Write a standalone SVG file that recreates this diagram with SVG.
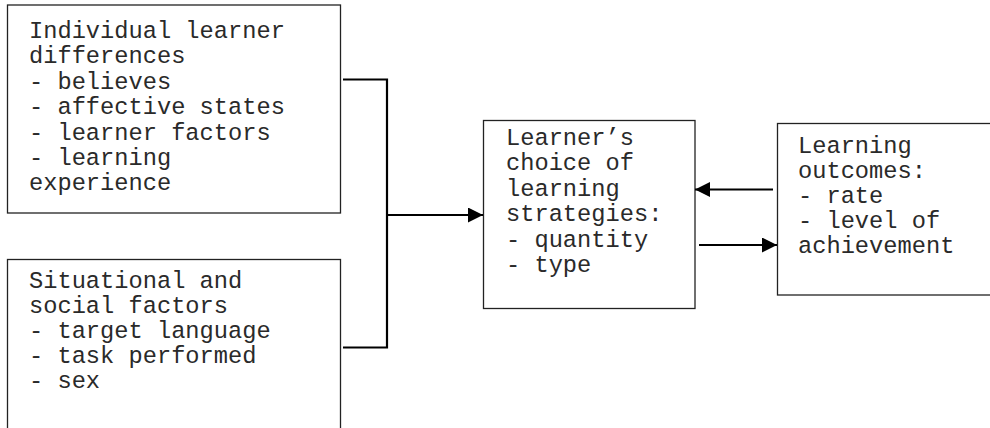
<svg xmlns="http://www.w3.org/2000/svg" width="990" height="428" viewBox="0 0 990 428">
<style>
.box{fill:#fff;stroke:#222;stroke-width:1.3}
.t{font-family:"Liberation Mono","Courier New",monospace;font-size:23.7px;fill:#2a2a2a}
.c{stroke:#000;stroke-width:2.2;fill:none}
</style>
<defs>
<marker id="ah" markerWidth="15" markerHeight="15" viewBox="0 0 15 15" refX="15" refY="7.5" orient="auto" markerUnits="userSpaceOnUse">
<path d="M0,0 L15,7.5 L0,15 Z" fill="#000"/>
</marker>
</defs>
<rect width="990" height="428" fill="#fff"/>
<g id="n1">
<rect class="box" x="7.5" y="5" width="333" height="208"/>
<text class="t" x="29" y="38"><tspan x="29">Individual learner</tspan><tspan x="29" dy="25.4">differences</tspan><tspan x="29" dy="25.4">- believes</tspan><tspan x="29" dy="25.4">- affective states</tspan><tspan x="29" dy="25.4">- learner factors</tspan><tspan x="29" dy="25.4">- learning</tspan><tspan x="29" dy="25.4">experience</tspan></text>
</g>
<g id="n2">
<rect class="box" x="7.5" y="259.5" width="333" height="190"/>
<text class="t" x="29" y="288"><tspan x="29">Situational and</tspan><tspan x="29" dy="25">social factors</tspan><tspan x="29" dy="25">- target language</tspan><tspan x="29" dy="25">- task performed</tspan><tspan x="29" dy="25">- sex</tspan></text>
</g>
<g id="n3">
<rect class="box" x="483.5" y="120.5" width="211.5" height="188"/>
<text class="t" x="506" y="145"><tspan x="506">Learner’s</tspan><tspan x="506" dy="25.4">choice of</tspan><tspan x="506" dy="25.4">learning</tspan><tspan x="506" dy="25.4">strategies:</tspan><tspan x="506" dy="25.4">- quantity</tspan><tspan x="506" dy="25.4">- type</tspan></text>
</g>
<g id="n4">
<rect class="box" x="777.5" y="123.5" width="230" height="171.5"/>
<text class="t" x="798" y="152.5"><tspan x="798">Learning</tspan><tspan x="798" dy="25.2">outcomes:</tspan><tspan x="798" dy="25.2">- rate</tspan><tspan x="798" dy="25.2">- level of</tspan><tspan x="798" dy="25.2">achievement</tspan></text>
</g>
<g id="connectors">
<polyline class="c" points="343,79.5 387,79.5 387,347.5 343,347.5"/>
<line class="c" x1="387" y1="215" x2="483" y2="215" marker-end="url(#ah)"/>
<line class="c" x1="773" y1="189.5" x2="695" y2="189.5" marker-end="url(#ah)"/>
<line class="c" x1="699" y1="245" x2="777" y2="245" marker-end="url(#ah)"/>
</g>
</svg>
